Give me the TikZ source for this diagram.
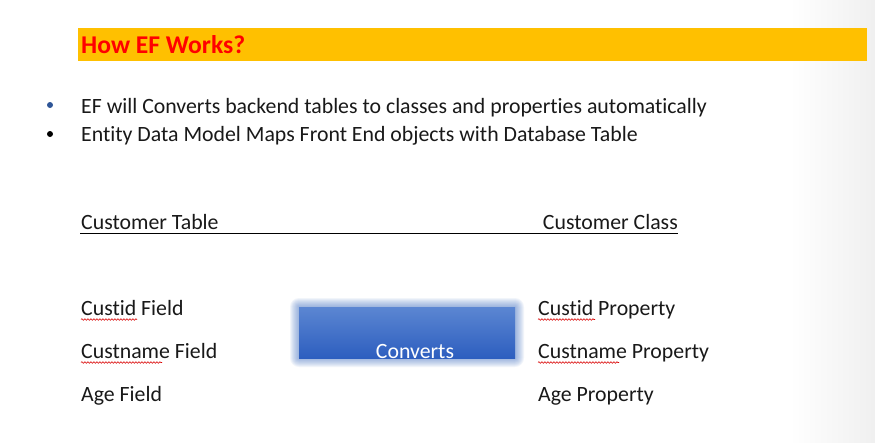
\documentclass[tikz,border=0pt]{standalone}
\usepackage{fontspec}
\setmainfont{Carlito}[Ligatures={NoCommon}]
\usetikzlibrary{decorations.pathmorphing}
\definecolor{barY}{HTML}{FFC000}
\definecolor{titleR}{HTML}{FF0000}
\definecolor{bulB}{HTML}{2F5597}
\definecolor{boxT}{HTML}{5B86D2}
\definecolor{boxB}{HTML}{2D5EBF}
\definecolor{glowC}{HTML}{4472C4}
\tikzset{
  txt/.style={anchor=base west, inner sep=0pt, font=\fontsize{21.8}{26}\selectfont, text=black!90},
  squig/.style={draw=red!85!black, line width=0.6pt, decorate, decoration={snake, amplitude=0.8pt, segment length=3pt}},
}
\begin{document}
\begin{tikzpicture}[x=1pt,y=-1pt]
\useasboundingbox (0,0) rectangle (875,442);
\fill[white] (0,0) rectangle (875,442);
\shade[left color=white, right color=black!6] (790,0) rectangle (875,442);
% title bar
\node[fill=barY, minimum width=789pt, minimum height=33pt, anchor=north west, inner sep=0pt] (bar) at (78,28) {};
\node[anchor=base west, inner sep=0pt, font=\bfseries\fontsize{25.6}{30}\selectfont, text=titleR] (title) at (81,53) {How EF Works?};
% bullets
\node[circle, fill=bulB, inner sep=0pt, minimum size=6pt] (b1) at (50,105) {};
\node[txt] (l1) at (81,113) {EF will Converts backend tables to classes and properties automatically};
\node[circle, fill=black, inner sep=0pt, minimum size=6pt] (b2) at (50,134) {};
\node[txt] (l2) at (81,141) {Entity Data Model Maps Front End objects with Database Table};
% headers
\node[txt] (ct) at (81,229) {Customer Table};
\node[txt, anchor=base east] (cc) at (678,229) {Customer Class};
\coordinate (ula) at (80,233.5);
\coordinate (ulb) at (678,233.5);
\draw[line width=1.2pt] (ula) -- (ulb);
% rows
\node[txt] (f1) at (81,315) {Custid Field};
\node[txt] (f2) at (81,358) {Custname Field};
\node[txt] (f3) at (81,401) {Age Field};
\node[txt] (p1) at (538,315) {Custid Property};
\node[txt] (p2) at (538,358) {Custname Property};
\node[txt] (p3) at (538,401) {Age Property};
% spell-check squiggles
\coordinate (s1a) at (81,319.5); \coordinate (s1b) at (137,319.5);
\coordinate (s2a) at (81,362.5); \coordinate (s2b) at (162,362.5);
\coordinate (s3a) at (538,319.5); \coordinate (s3b) at (595,319.5);
\coordinate (s4a) at (538,362.5); \coordinate (s4b) at (619,362.5);
\draw[squig] (s1a) -- (s1b);
\draw[squig] (s2a) -- (s2b);
\draw[squig] (s3a) -- (s3b);
\draw[squig] (s4a) -- (s4b);
% converts box glow
\foreach \g in {1,...,9}{
  \fill[glowC, opacity=0.07, rounded corners=\g pt] (299-\g,307-\g) rectangle (515+\g,358+\g);
}
\node[anchor=north west, minimum width=216pt, minimum height=51pt, inner sep=0pt,
  top color=boxT, bottom color=boxB] (box) at (299,307) {};
\node[anchor=base, inner sep=0pt, font=\fontsize{21.8}{26}\selectfont, text=white] (conv) at (415,358) {Converts};
\end{tikzpicture}
\end{document}
